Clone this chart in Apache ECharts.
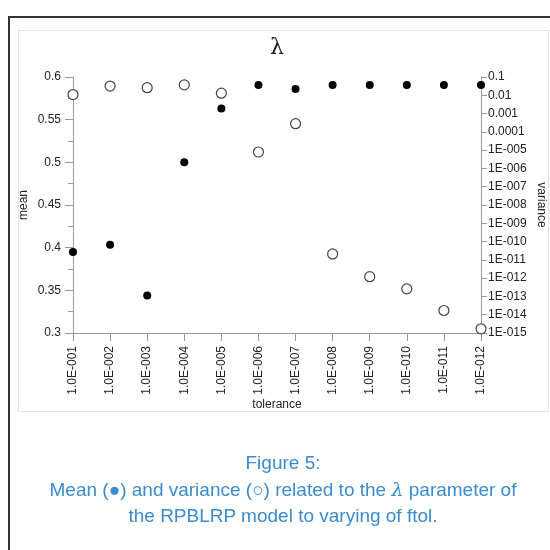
<!DOCTYPE html>
<html>
<head>
<meta charset="utf-8">
<script src="https://cdn.jsdelivr.net/npm/echarts@6/dist/echarts.min.js"></script>
<style>
  body { margin: 0; background: #fff; }
  #outer { position: absolute; left: 8px; top: 16px; width: 600px; height: 600px;
           border-top: 2px solid #333; border-left: 2px solid #333; }
  #frame { position: absolute; left: 18px; top: 30px; width: 529px; height: 380px;
           border: 1px solid #e2e2e2; }
  #chart { position: absolute; left: 0; top: 0; width: 550px; height: 550px; }
  #caption { position: absolute; left: 8px; top: 450px; width: 550px; text-align: center;
             color: #3a8ccf; font-family: 'Liberation Sans', Arial, sans-serif;
             font-size: 19px; line-height: 26px; }
  #caption i { font-family: 'DejaVu Serif', serif; }
</style>
</head>
<body>
<div id="outer"></div>
<div id="frame"></div>
<div id="chart"></div>
<div id="caption">Figure 5:<br>Mean (&#9679;) and variance (&#9675;) related to the <i>&lambda;</i> parameter of<br>the RPBLRP model to varying of ftol.</div>
<script>
  'use strict'

  //------------------- Data -------------------//
  const tolerances = ['1.0E-001', '1.0E-002', '1.0E-003', '1.0E-004', '1.0E-005', '1.0E-006',
                      '1.0E-007', '1.0E-008', '1.0E-009', '1.0E-010', '1.0E-011', '1.0E-012']
  const meanValues = [0.395, 0.4035, 0.344, 0.500, 0.563, 0.5905,
                      0.586, 0.5905, 0.5905, 0.5905, 0.5905, 0.5905]
  const varianceValues = [1.1e-2, 3.2e-2, 2.6e-2, 3.7e-2, 1.3e-2, 7.9e-6,
                          2.8e-4, 2.1e-11, 1.2e-12, 2.6e-13, 1.7e-14, 1.7e-15]

  //------------------- Helpers -------------------//
  const fmtVariance = v => {
    const exp = Math.round(Math.log10(v))
    if (exp >= -4) return v.toFixed(-exp)
    return '1E-' + String(-exp).padStart(3, '0')
  }

  const axisColor = '#9a9a9a'
  const textStyle = {color: '#222', fontFamily: 'Liberation Sans, Arial, sans-serif', fontSize: 12}

  const chart = echarts.init(document.getElementById('chart'))

  chart.setOption({
    animation: false,
    title: {
      text: 'λ',
      left: 272,
      top: 32,
      textAlign: 'center',
      textStyle: {fontFamily: 'DejaVu Serif, serif', fontSize: 22, fontWeight: 'normal', color: '#222'},
    },
    grid: {left: 73, right: 69, top: 77, bottom: 217, outerBoundsMode: 'none', containLabel: false},
    xAxis: {
      type: 'category',
      data: tolerances,
      boundaryGap: false,
      name: 'tolerance',
      nameLocation: 'middle',
      nameGap: 65,
      nameTextStyle: textStyle,
      axisLine: {lineStyle: {color: axisColor}},
      axisTick: {show: true, alignWithLabel: true, length: 8, lineStyle: {color: axisColor}},
      axisLabel: {...textStyle, rotate: 90, margin: 13, interval: 0},
      splitLine: {show: false},
    },
    yAxis: [
      {
        type: 'value',
        min: 0.3,
        max: 0.6,
        interval: 0.05,
        name: 'mean',
        nameLocation: 'middle',
        nameRotate: 90,
        nameGap: 43,
        nameMoveOverlap: false,
        nameTextStyle: textStyle,
        axisLine: {show: true, lineStyle: {color: axisColor}},
        axisTick: {show: true, length: 8, lineStyle: {color: axisColor}},
        minorTick: {show: true, splitNumber: 2, length: 5, lineStyle: {color: axisColor}},
        axisLabel: {...textStyle, margin: 12},
        splitLine: {show: false},
      },
      {
        type: 'log',
        logBase: 10,
        min: 1e-15,
        max: 0.1,
        interval: 1,
        position: 'right',
        name: 'variance',
        nameLocation: 'middle',
        nameRotate: -90,
        nameGap: 54,
        nameMoveOverlap: false,
        nameTextStyle: textStyle,
        axisLine: {show: true, lineStyle: {color: axisColor}},
        axisTick: {show: true, length: 6, lineStyle: {color: axisColor}},
        axisLabel: {...textStyle, margin: 7, formatter: fmtVariance},
        splitLine: {show: false},
      },
    ],
    series: [
      {
        name: 'mean',
        type: 'scatter',
        yAxisIndex: 0,
        data: meanValues,
        symbol: 'circle',
        symbolSize: 8,
        itemStyle: {color: '#000', opacity: 1},
        z: 3,
      },
      {
        name: 'variance',
        type: 'scatter',
        yAxisIndex: 1,
        data: varianceValues,
        symbol: 'circle',
        symbolSize: 10,
        itemStyle: {color: '#fff', borderColor: '#444', borderWidth: 1.2, opacity: 1},
        z: 4,
      },
    ],
  })
</script>
</body>
</html>
